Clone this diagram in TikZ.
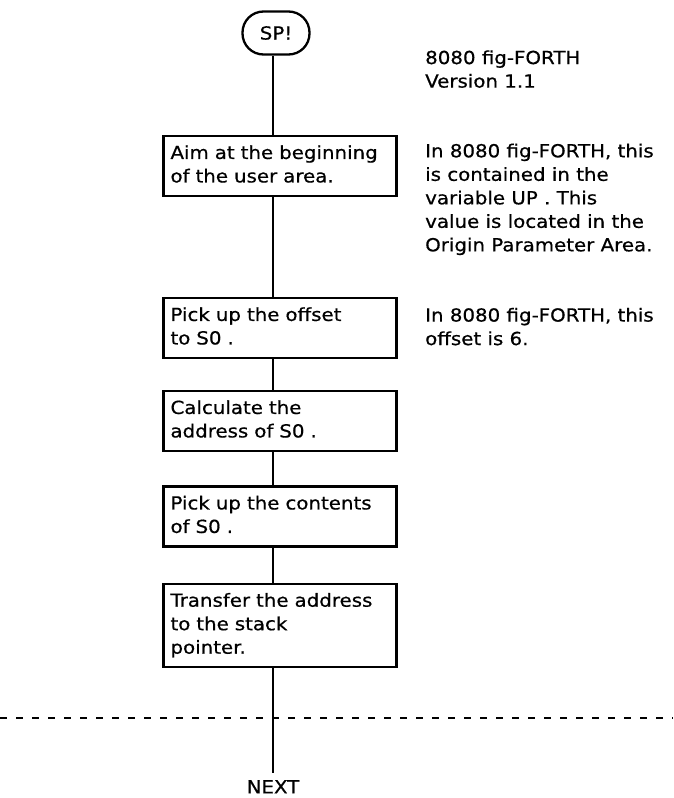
\documentclass[tikz,border=0pt]{standalone}
\usepackage{fontspec}
\newfontfamily\fgfont{DejaVu Sans}[FakeStretch=1.1, FakeBold=0.6]
\tikzset{
    stepbox/.style={draw, line width=2.3pt, text width=219pt, inner xsep=7pt, inner ysep=6.5pt, align=left,
        font=\fgfont\fontsize{18}{23.5}\selectfont, execute at begin node=\strut, execute at end node=\strut},
    term/.style={draw, line width=2.3pt, rounded corners=21pt, minimum width=67pt, minimum height=43pt,
        font=\fgfont\fontsize{18}{23.5}\selectfont},
    note/.style={anchor=west, inner sep=0pt, align=left,
        font=\fgfont\fontsize{18}{23.5}\selectfont, execute at begin node=\strut, execute at end node=\strut},
    exit/.style={anchor=north, inner xsep=0pt, inner ysep=7pt, font=\fgfont\fontsize{18}{23.5}\selectfont},
    flow/.style={line width=2.3pt}
}
\begin{document}
\begin{tikzpicture}[x=1pt, y=-1pt]
        \useasboundingbox (0,0) rectangle (673,798);
        \node[term] (sp) at (276,33) {SP!};
        \node[stepbox] (aim) at (280,166) {Aim at the beginning\\of the user area.};
        \node[stepbox] (off) at (280,328) {Pick up the offset\\to S0 .};
        \node[stepbox] (calc) at (280,421) {Calculate the\\address of S0 .};
        \node[stepbox] (cont) at (280,516.5) {Pick up the contents\\of S0 .};
        \node[stepbox] (xfer) at (280,625.5) {Transfer the address\\to the stack\\pointer.};
        \node[exit] (next) at (273,773) {NEXT};
        \node[note] (n0) at (425,72.5) {8080 fig-FORTH\\Version 1.1};
        \node[note] (n1) at (425,201) {In 8080 fig-FORTH, this\\is contained in the\\variable UP . This\\value is located in the\\Origin Parameter Area.};
        \node[note] (n2) at (425,330) {In 8080 fig-FORTH, this\\offset is 6.};
        \draw[flow] (sp.south -| next) to (aim.north -| next);
        \draw[flow] (aim.south -| next) to (off.north -| next);
        \draw[flow] (off.south -| next) to (calc.north -| next);
        \draw[flow] (calc.south -| next) to (cont.north -| next);
        \draw[flow] (cont.south -| next) to (xfer.north -| next);
        \draw[flow] (xfer.south -| next) to (next.north);
        \draw[line width=2.3pt, dash pattern=on 7pt off 9pt] (0,718) -- (673,718);
    \end{tikzpicture}
\end{document}
